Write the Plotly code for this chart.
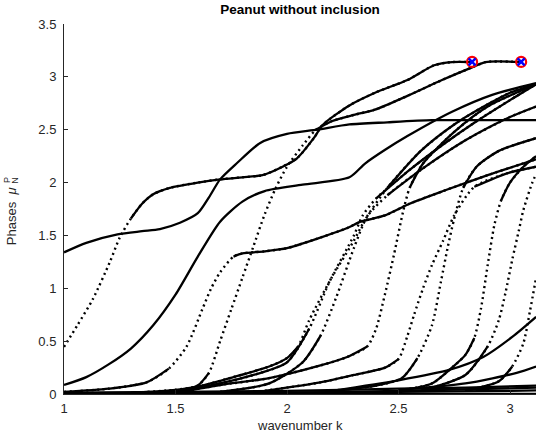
import plotly.graph_objects as go

# ---- data (wavenumber k, phase mu_N^P) ----
kA = [1.0, 1.1, 1.24, 1.35, 1.43, 1.52, 1.6, 1.65, 1.7, 1.776, 1.88, 2.0, 2.135, 2.28, 2.45, 2.65, 2.85, 3.0, 3.117]
pA = [1.34, 1.43, 1.51, 1.54, 1.56, 1.62, 1.71, 1.86, 2.03, 2.185, 2.375, 2.46, 2.50, 2.55, 2.57, 2.59, 2.59, 2.59, 2.59]

kB = [1.0, 1.06, 1.13, 1.206, 1.25, 1.30, 1.35, 1.4, 1.475, 1.6, 1.7, 1.8, 1.89, 1.98, 2.045, 2.12, 2.16, 2.28, 2.395, 2.54, 2.66, 2.74, 2.83]
pB = [0.445, 0.65, 0.90, 1.25, 1.48, 1.66, 1.80, 1.89, 1.95, 2.0, 2.03, 2.05, 2.07, 2.15, 2.23, 2.42, 2.545, 2.73, 2.85, 2.97, 3.11, 3.14, 3.14]

kC = [1.0, 1.2, 1.37, 1.47, 1.55, 1.62, 1.66, 1.70, 1.76, 1.80, 1.9, 2.0, 2.15, 2.27, 2.33, 2.44, 2.55, 2.7, 2.9, 3.117]
pC = [0.02, 0.05, 0.11, 0.24, 0.45, 0.8, 1.0, 1.15, 1.30, 1.33, 1.35, 1.38, 1.48, 1.57, 1.63, 1.69, 1.80, 1.92, 2.07, 2.22]

kD = [1.0, 1.1, 1.2, 1.3, 1.4, 1.5, 1.6, 1.7, 1.8, 1.9, 2.07, 2.28, 2.35, 2.44, 2.54, 2.74, 2.92, 3.117]
pD = [0.085, 0.16, 0.28, 0.43, 0.65, 0.94, 1.30, 1.63, 1.82, 1.92, 1.98, 2.05, 2.18, 2.31, 2.44, 2.67, 2.83, 2.94]

kE = [1.5, 1.6, 1.65, 1.70, 1.75, 1.80, 1.85, 1.9, 1.95, 2.0, 2.07, 2.13, 2.2, 2.3, 2.395, 2.54, 2.695, 2.83, 2.89, 3.05]
pE = [0.02, 0.08, 0.2, 0.5, 0.8, 1.1, 1.4, 1.7, 1.95, 2.15, 2.35, 2.5, 2.58, 2.64, 2.69, 2.82, 2.97, 3.09, 3.14, 3.14]

kG = [1.3, 1.5, 1.6, 1.76, 1.92, 2.0, 2.05, 2.1, 2.2, 2.3, 2.35, 2.45, 2.6, 2.75, 2.9, 3.0, 3.117]
pG = [0.01, 0.04, 0.07, 0.16, 0.26, 0.34, 0.45, 0.70, 1.1, 1.45, 1.65, 1.95, 2.3, 2.55, 2.74, 2.85, 2.93]

kH = [1.5, 1.7, 1.85, 2.0, 2.1, 2.19, 2.3, 2.34, 2.4, 2.55, 2.7, 2.85, 3.0, 3.117]
pH = [0.02, 0.1, 0.18, 0.30, 0.62, 1.06, 1.5, 1.69, 1.85, 2.12, 2.36, 2.58, 2.78, 2.93]

kI = [1.7, 1.92, 2.07, 2.15, 2.22, 2.30, 2.36, 2.45, 2.6, 2.8, 3.0, 3.117]
pI = [0.02, 0.1, 0.30, 0.55, 0.91, 1.38, 1.68, 1.88, 2.12, 2.4, 2.62, 2.72]

kL = [1.5, 1.7, 1.92, 2.15, 2.27, 2.36, 2.40, 2.44, 2.48, 2.52, 2.55, 2.61, 2.75, 2.9, 3.117]
pL = [0.01, 0.085, 0.15, 0.27, 0.35, 0.45, 0.62, 0.95, 1.32, 1.72, 1.95, 2.18, 2.48, 2.72, 2.93]

kM = [1.9, 2.15, 2.3, 2.44, 2.5, 2.54, 2.57, 2.61, 2.65, 2.70, 2.75, 2.84, 2.99, 3.117]
pM = [0.03, 0.11, 0.18, 0.25, 0.33, 0.55, 0.75, 1.0, 1.22, 1.45, 1.69, 1.96, 2.09, 2.15]

kN = [2.2, 2.4, 2.515, 2.585, 2.65, 2.69, 2.72, 2.75, 2.79, 2.85, 2.95, 3.117]
pN = [0.03, 0.08, 0.15, 0.34, 0.65, 1.06, 1.38, 1.66, 1.95, 2.15, 2.3, 2.42]

kO = [2.5, 2.65, 2.74, 2.80, 2.84, 2.87, 2.90, 2.93, 2.96, 3.0, 3.06, 3.117]
pO = [0.03, 0.1, 0.25, 0.37, 0.53, 0.81, 1.22, 1.60, 1.83, 2.0, 2.15, 2.25]

kP = [2.6, 2.8, 2.9, 2.95, 2.98, 3.01, 3.04, 3.06, 3.10, 3.117]
pP = [0.03, 0.18, 0.45, 0.70, 0.96, 1.27, 1.55, 1.74, 2.0, 2.08]

kQ = [2.8, 2.95, 3.01, 3.06, 3.09, 3.117]
pQ = [0.03, 0.12, 0.26, 0.48, 0.79, 1.1]

kR = [2.2, 2.5, 2.73, 2.88, 3.01, 3.117]
pR = [0.03, 0.13, 0.23, 0.35, 0.54, 0.73]

kS = [2.5, 2.8, 3.03, 3.117]
pS = [0.04, 0.10, 0.20, 0.26]

kZ1 = [1.0, 2.0, 3.117]
pZ1 = [0.0, 0.0, 0.0]
kZ2 = [1.0, 1.5, 2.0, 2.5, 3.0, 3.117]
pZ2 = [0.006, 0.01, 0.015, 0.02, 0.03, 0.035]
kZ3 = [1.0, 1.5, 2.0, 2.5, 2.8, 3.117]
pZ3 = [0.012, 0.02, 0.03, 0.05, 0.06, 0.08]
kZ4 = [1.5, 2.0, 2.5, 3.117]
pZ4 = [0.0, 0.01, 0.03, 0.06]

# (k, phase, first/last index of the sparsely sampled "dotted" stretch, or None)
curves = [
    (kA, pA, None), (kB, pB, (0, 5)), (kC, pC, (3, 8)), (kD, pD, None), (kE, pE, (2, 11)),
    (kG, pG, (6, 11)), (kH, pH, (4, 8)), (kI, pI, (3, 7)), (kL, pL, (5, 10)), (kM, pM, (4, 11)),
    (kN, pN, (3, 8)), (kO, pO, (4, 8)), (kP, pP, (2, 9)), (kQ, pQ, (2, 5)), (kR, pR, None),
    (kS, pS, None), (kZ1, pZ1, None), (kZ2, pZ2, None), (kZ3, pZ3, None), (kZ4, pZ4, None),
]

k_marks = [2.83, 3.05]
p_marks = [3.1416, 3.1416]

x_ticks = [1, 1.5, 2, 2.5, 3]
x_tick_text = ["1", "1.5", "2", "2.5", "3"]
y_ticks = [0, 0.5, 1, 1.5, 2, 2.5, 3, 3.5]
y_tick_text = ["0", "0.5", "1", "1.5", "2", "2.5", "3", "3.5"]

fig = go.Figure()
solid = dict(color="black", width=2.3, shape="spline", smoothing=0.7)
dotted = dict(color="black", width=2.4, shape="spline", smoothing=0.7, dash="2px,3.5px")


def add(xs, ys, style):
    if len(xs) >= 2:
        fig.add_trace(go.Scatter(x=xs, y=ys, mode="lines", line=style, showlegend=False, hoverinfo="skip"))


for kk, pp, dd in curves:
    if dd is None:
        add(kk, pp, solid)
    else:
        i0, i1 = dd
        # full-length dotted trace keeps the curve continuous across the joins
        add(kk, pp, dotted)
        add(kk[:i0 + 1], pp[:i0 + 1], solid)
        add(kk[i1:], pp[i1:], solid)

fig.add_trace(go.Scatter(x=k_marks, y=p_marks, mode="markers",
                         marker=dict(symbol="circle-open", size=10, color="red", line=dict(width=2.2, color="red")),
                         showlegend=False))
fig.add_trace(go.Scatter(x=k_marks, y=p_marks, mode="markers",
                         marker=dict(symbol="x-thin-open", size=7, color="blue", line=dict(width=2.5, color="blue")),
                         showlegend=False))

font = "Liberation Sans, Arial, sans-serif"
fig.update_layout(
    width=536, height=439,
    margin=dict(l=64, r=0, t=24, b=45),
    paper_bgcolor="white", plot_bgcolor="white",
    font=dict(family=font, size=13, color="#262626"),
    title=dict(text="<b>Peanut without inclusion</b>", x=0.5, xanchor="center", xref="paper",
               y=0.978, yanchor="middle", font=dict(size=13.5, color="black")),
    xaxis=dict(range=[1, 3.1166], tickvals=x_ticks, ticktext=x_tick_text, showgrid=False, zeroline=False,
               showline=True, linecolor="#262626", linewidth=1, ticks="inside", ticklen=4, tickcolor="#262626",
               ticklabelstandoff=2),
    yaxis=dict(range=[0, 3.5], tickvals=y_ticks, ticktext=y_tick_text, showgrid=False, zeroline=False,
               showline=True, linecolor="#262626", linewidth=1, ticks="inside", ticklen=4, tickcolor="#262626",
               ticklabelstandoff=4),
)
fig.add_annotation(text="wavenumber k", xref="paper", yref="paper", x=0.5, y=-0.086,
                   xanchor="center", yanchor="middle", showarrow=False, font=dict(size=13))
fig.add_annotation(text="Phases  <i>μ</i>", textangle=-90, xref="paper", yref="paper", x=-0.112, y=0.481,
                   xanchor="center", yanchor="middle", showarrow=False, font=dict(size=13))
fig.add_annotation(text="N", textangle=-90, xref="paper", yref="paper", x=-0.1025, y=0.578,
                   xanchor="center", yanchor="middle", showarrow=False, font=dict(size=9))
fig.add_annotation(text="P", textangle=-90, xref="paper", yref="paper", x=-0.121, y=0.578,
                   xanchor="center", yanchor="middle", showarrow=False, font=dict(size=9))
fig.write_html("out.html")
